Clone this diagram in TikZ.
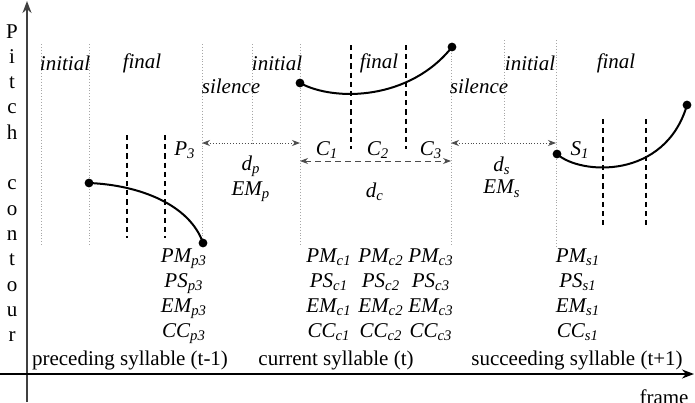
\documentclass[tikz,border=0pt]{standalone}
\usepackage{fontspec}
\setmainfont{Liberation Serif}
\usetikzlibrary{arrows.meta,positioning}

\begin{document}
\begin{tikzpicture}[
  x=0.5pt, y=-0.5pt,
  font=\fontsize{10.5}{12.5}\selectfont,
  grid/.style={gray!70, densely dotted, line width=0.45pt},
  seg/.style={dash pattern=on 2.6pt off 2pt, line width=0.9pt},
  contour/.style={line width=1pt},
  dot/.style={circle, fill, inner sep=0pt, minimum size=4.4pt},
  dim/.style={{Stealth[length=4pt,width=3pt]}-{Stealth[length=4pt,width=3pt]}, line width=0.45pt, gray!60!black},
  axis/.style={-{Stealth[length=6pt,width=4.5pt]}, line width=0.9pt},
  lbl/.style={font=\fontsize{10.5}{12.5}\selectfont\itshape},
  feat/.style={lbl, align=center, anchor=north, inner sep=0pt}
]
\useasboundingbox (0,0) rectangle (695,402);

% axes
\coordinate (yb) at (27,402);
\coordinate (yt) at (27,1);
\coordinate (xl) at (0,374);
\coordinate (xr) at (694,374);
\draw[axis, black!75] (yb) -- (yt);
\draw[axis] (xl) -- (xr);
\node[align=center, font=\fontsize{10.5}{12.65}\selectfont] (ylab) at (12,183)
  {P\\i\\t\\c\\h\\[12.65pt]c\\o\\n\\t\\o\\u\\r};
\node (xlab) at (664,397) {frame};

% segment boundaries
\foreach \x/\t/\b in {41/44/246, 89/44/246, 202/44/246, 252/44/143, 300/44/246,
                      451/44/246, 504/40/143, 556/40/246}
  \draw[grid] (\x,\t) -- (\x,\b);
\foreach \x/\t/\b in {127/135/238, 165/135/238, 351/45/149, 406/45/149,
                      603/119/226, 646/119/226}
  \draw[seg] (\x,\t) -- (\x,\b);

% pitch contours
\node[dot] (p0) at (89,183) {};
\node[dot] (p1) at (203,243) {};
\node[dot] (c0) at (300,83) {};
\node[dot] (c1) at (452,47) {};
\node[dot] (s0) at (557,154) {};
\node[dot] (s1) at (687,105) {};
\draw[contour] (p0.center) .. controls (140,185) and (190,205) .. (p1.center);
\draw[contour] (c0.center) .. controls (335,102) and (410,100) .. (c1.center);
\draw[contour] (s0.center) .. controls (580,175) and (665,180) .. (s1.center);

% unit labels
\node[lbl] (ini1) at (65,63) {initial};
\node[lbl] (fin1) at (142,63) {final};
\node[lbl] (sil1) at (231,86) {silence};
\node[lbl] (ini2) at (277,63) {initial};
\node[lbl] (fin2) at (379,63) {final};
\node[lbl] (sil2) at (479,86) {silence};
\node[lbl] (ini3) at (530,63) {initial};
\node[lbl] (fin3) at (616,63) {final};

\node[lbl] (P3) at (185,150) {P\textsubscript{3}};
\node[lbl] (C1) at (327,150) {C\textsubscript{1}};
\node[lbl] (C2) at (378,150) {C\textsubscript{2}};
\node[lbl] (C3) at (431,150) {C\textsubscript{3}};
\node[lbl] (S1) at (580,150) {S\textsubscript{1}};

% durations
\coordinate (dpl) at (202,143);
\coordinate (dpr) at (300,143);
\coordinate (dcl) at (300,161);
\coordinate (dcr) at (451,161);
\coordinate (dsl) at (451,143);
\coordinate (dsr) at (556,143);
\draw[dim, densely dotted] (dpl) -- (dpr);
\draw[dim, densely dashed] (dcl) -- (dcr);
\draw[dim, densely dotted] (dsl) -- (dsr);
\node[lbl] (dp) at (251,166) {d\textsubscript{p}};
\node[lbl, below=-4.5pt of dp] (EMp) {EM\textsubscript{p}};
\node[lbl] (dc) at (375,192) {d\textsubscript{c}};
\node[lbl] (ds) at (502,166) {d\textsubscript{s}};
\node[lbl, below=-4.5pt of ds] (EMs) {EM\textsubscript{s}};

% features
\node[feat] (fp3) at (184,248) {PM\textsubscript{p3}\\PS\textsubscript{p3}\\EM\textsubscript{p3}\\CC\textsubscript{p3}};
\node[feat] (fc1) at (329,248) {PM\textsubscript{c1}\\PS\textsubscript{c1}\\EM\textsubscript{c1}\\CC\textsubscript{c1}};
\node[feat] (fc2) at (381,248) {PM\textsubscript{c2}\\PS\textsubscript{c2}\\EM\textsubscript{c2}\\CC\textsubscript{c2}};
\node[feat] (fc3) at (431,248) {PM\textsubscript{c3}\\PS\textsubscript{c3}\\EM\textsubscript{c3}\\CC\textsubscript{c3}};
\node[feat] (fs1) at (578,248) {PM\textsubscript{s1}\\PS\textsubscript{s1}\\EM\textsubscript{s1}\\CC\textsubscript{s1}};

% syllables
\node (prev) at (130,360) {preceding syllable (t-1)};
\node (curr) at (336,360) {current syllable (t)};
\node (next) at (577,360) {succeeding syllable (t+1)};
\end{tikzpicture}
\end{document}
